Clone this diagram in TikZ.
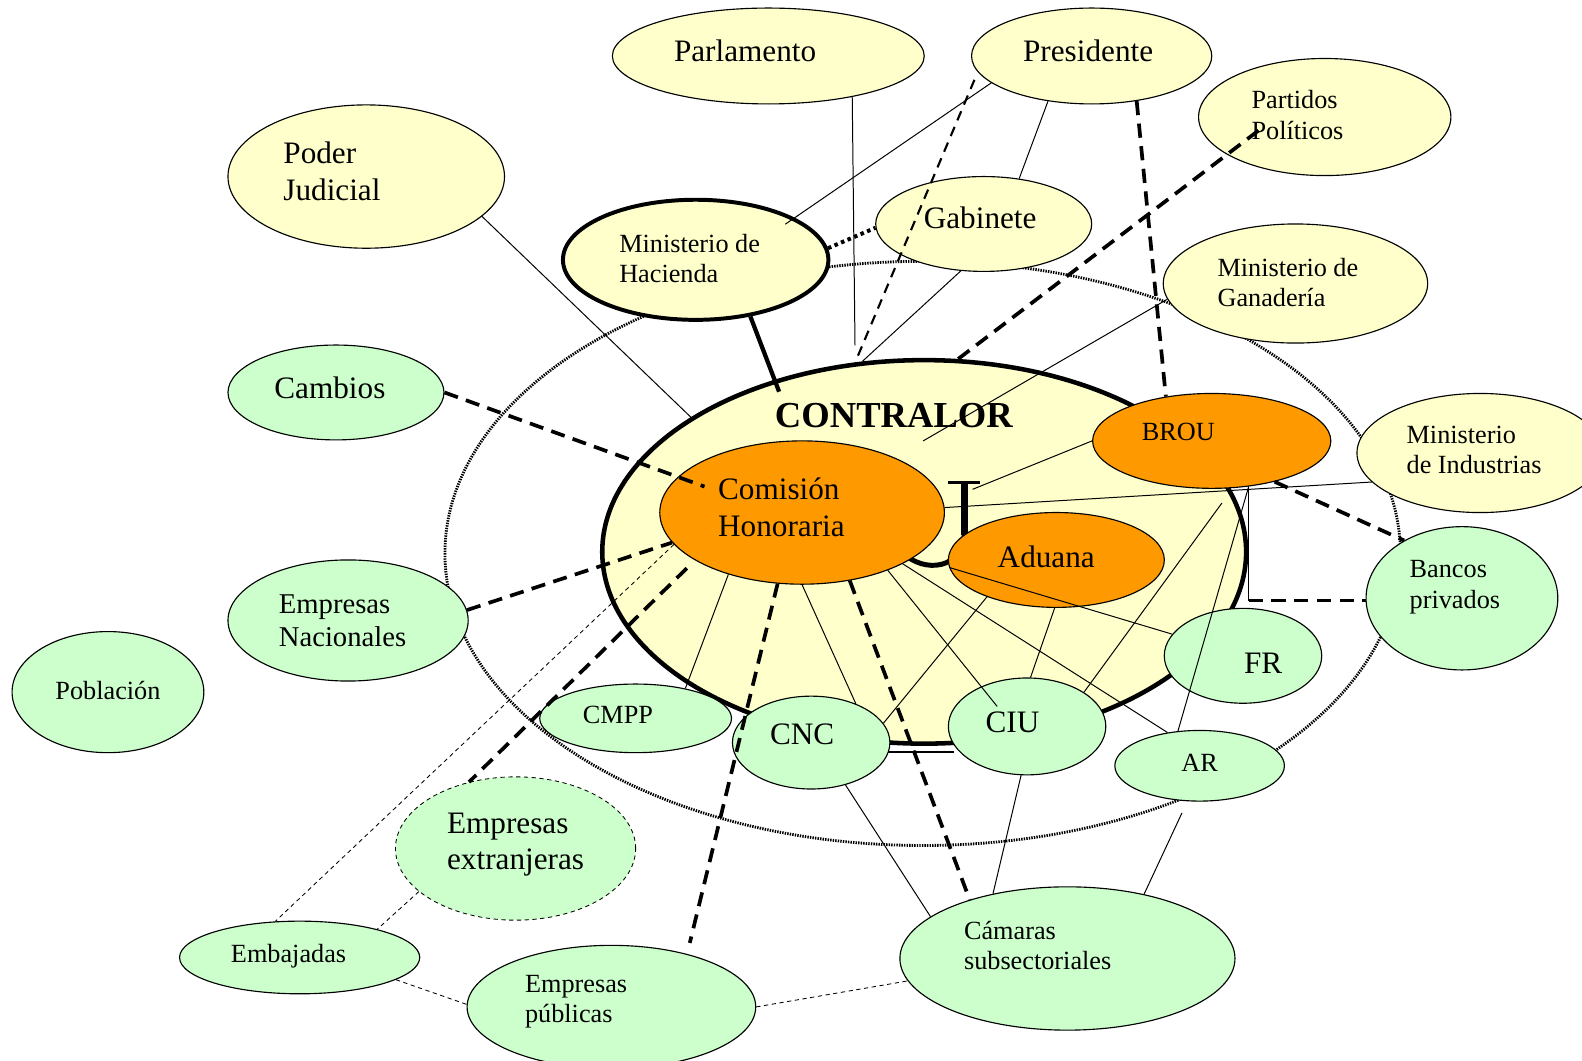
\documentclass[tikz,border=0pt]{standalone}
\usepackage{fontspec}
\setmainfont{Liberation Serif}
\usetikzlibrary{shapes.geometric}
\definecolor{amarillo}{HTML}{FFFFCC}
\definecolor{verde}{HTML}{CCFFCC}
\definecolor{naranja}{HTML}{FF9900}
\tikzset{
  elipse/.style={ellipse,draw,line width=0.8pt,inner sep=0pt},
  tam/.style 2 args={minimum width=#1*0.05cm,minimum height=#2*0.05cm},
  grande/.style={font=\fontsize{22}{25.9}\selectfont,align=left},
  mediano/.style={font=\fontsize{20.2}{23.5}\selectfont,align=left},
  chico/.style={font=\fontsize{18.5}{21.3}\selectfont,align=left},
  fina/.style={line width=0.7pt},
  gruesa/.style={line width=2.6pt,dash pattern=on 10pt off 6pt},
  media/.style={line width=1.5pt,dash pattern=on 7pt off 5pt},
  rayada/.style={line width=0.6pt,dash pattern=on 3pt off 2.5pt},
  punteada/.style={line width=2.8pt,dash pattern=on 2.5pt off 2.5pt},
  entorno/.style={line width=2pt,dash pattern=on 1pt off 0.8pt}
}
\begin{document}
\begin{tikzpicture}[x=0.025cm,y=-0.025cm]
\useasboundingbox (0,0) rectangle (1568,1051);
\draw[entorno] (914.5,548.5) ellipse (473.5 and 289.5);

\node[elipse,tam={154.5}{47.5},fill=amarillo,label={[grande,shift={(-23,-5.5)}]center:Parlamento}] (parlamento) at (761.5,55.5) {};
\node[elipse,tam={119}{47.5},fill=amarillo,label={[grande,shift={(-3.5,-5.5)}]center:Presidente}] (presidente) at (1082,55.5) {};
\node[elipse,tam={125}{58},fill=amarillo,label={[chico,shift={(-27,-2)}]center:Partidos\\Políticos}] (partidos) at (1313,116) {};
\node[elipse,tam={137}{71},fill=amarillo,label={[grande,shift={(-34,-5)}]center:Poder\\Judicial}] (poder) at (363,175) {};
\node[elipse,tam={107}{47},fill=amarillo,label={[grande,shift={(-3.5,-6)}]center:Gabinete}] (gabinete) at (975,222) {};
\node[elipse,tam={131.5}{59.5},fill=amarillo,line width=2.8pt,label={[chico,shift={(-6,-1)}]center:Ministerio de\\Hacienda}] (hacienda) at (689.5,257.5) {};
\node[elipse,tam={131}{59},fill=amarillo,label={[chico,shift={(-7.5,-1)}]center:Ministerio de\\Ganadería}] (ganaderia) at (1284,281) {};
\node[elipse,tam={107}{47},fill=verde,label={[grande,shift={(-6,-5)}]center:Cambios}] (cambios) at (333,389) {};
\node[elipse,tam={122}{59},fill=amarillo,label={[chico,shift={(-6,-3)}]center:Ministerio\\de Industrias}] (industrias) at (1467,449) {};
\node[elipse,tam={95}{71},fill=verde,label={[chico,shift={(-7,-11)}]center:Bancos\\privados}] (bancos) at (1449,593) {};
\node[elipse,tam={119}{60},fill=verde,label={[mediano,shift={(-5.5,0)}]center:Empresas\\Nacionales}] (nacionales) at (345,615) {};
\node[elipse,tam={95}{60},fill=verde,label={[chico,shift={(0,-2)}]center:Población}] (poblacion) at (107,686) {};

\node[elipse,tam={319}{190},fill=amarillo,line width=3.2pt,label={[font=\bfseries\fontsize{25.8}{30}\selectfont,shift={(-30,-135)}]center:CONTRALOR}] (contralor) at (916,547) {};
\draw[line width=1.2pt] (878,745) -- (946,745);
\draw[line width=5.5pt] (956,477) -- (956,530);
\draw[line width=3.5pt] (956,525) .. controls (956,566) and (915,568) .. (895,548);
\draw[line width=2pt] (940,478) -- (971,478);

\node[elipse,tam={141}{71},fill=naranja,label={[grande,shift={(-20.5,-5.5)}]center:Comisión\\Honoraria}] (comision) at (795,508) {};
\node[elipse,tam={118}{47},fill=naranja,label={[chico,shift={(-33,-9)}]center:BROU}] (brou) at (1201,437) {};
\node[elipse,tam={107}{47},fill=naranja,label={[grande,shift={(-10,-3)}]center:Aduana}] (aduana) at (1047,555) {};
\node[elipse,tam={95}{34},fill=verde,label={[chico,shift={(-17.5,-3)}]center:CMPP}] (cmpp) at (630,712) {};
\node[elipse,tam={78}{46},fill=verde,label={[grande,shift={(-9,-8)}]center:CNC}] (cnc) at (804,736) {};
\node[elipse,tam={78}{48},fill=verde,label={[grande,shift={(-14.5,-4)}]center:CIU}] (ciu) at (1018,720) {};
\node[elipse,tam={78}{47},fill=verde,label={[grande,shift={(20,7)}]center:FR}] (fr) at (1232,650) {};
\node[elipse,tam={84}{35},fill=verde,label={[chico,shift={(0,-3)}]center:AR}] (ar) at (1189,759) {};
\node[elipse,rayada,tam={119}{71},fill=verde,label={[grande,shift={(0,-4)}]center:Empresas\\extranjeras}] (extranjeras) at (511,841) {};
\node[elipse,tam={119}{36},fill=verde,label={[chico,shift={(-11,-1)}]center:Embajadas}] (embajadas) at (297,949) {};
\node[elipse,tam={143}{61},fill=verde,label={[chico,shift={(-35,-5)}]center:Empresas\\públicas}] (publicas) at (606,998) {};
\node[elipse,tam={166}{71},fill=verde,label={[chico,shift={(-29.5,-12.5)}]center:Cámaras\\subsectoriales}] (camaras) at (1058,950) {};

\coordinate (fingan) at (915,437);
\coordinate (utop) at (964,485);

\foreach \a/\b in {poder.-19/contralor.150, presidente.-134/gabinete.52,
    gabinete.-116/contralor.108, ganaderia.-173/fingan, brou.west/utop,
    industrias.-165/comision.2, brou.-51/ar.122, comision.-27/ar.134,
    aduana.184/fr.163, aduana.208/cnc.15, aduana.-92/ciu.86,
    comision.220/cmpp.31, comision.-90/cnc.41, cnc.-51/camaras.163,
    ciu.-97/camaras.139}
  \draw[fina] (\a) -- (\b);
\draw[fina,shorten >=-8pt] (presidente.-165) -- (hacienda.23);
\draw[fina,shorten >=12pt] (parlamento.-26) -- (contralor.110);
\draw[fina,shorten <=13pt] (brou.-66) -- (ciu.31);
\draw[fina,shorten >=-18pt] (comision.-34) -- (ciu.139);
\draw[fina,shorten <=9pt] (ar.-109) -- (camaras.40);
\draw[fina] (brou.-51) -- ++(0,113) coordinate (codo);

\draw[gruesa,shorten >=-20pt] (cambios.east) -- (comision.164);
\draw[gruesa] (nacionales.5) -- (comision.193);
\draw[gruesa,shorten <=8pt] (comision.204) -- (extranjeras.125);
\draw[gruesa,shorten >=8pt] (comision.-109) -- (publicas.35);
\draw[gruesa] (comision.-55) -- (camaras.149);
\draw[gruesa,shorten >=-30pt] (contralor.80) -- (partidos.201);
\draw[gruesa] (presidente.-45) -- (brou.136);
\draw[gruesa] (brou.-33) -- (bancos.135);
\draw[gruesa] (codo) -- (codo -| bancos.west);
\draw[media,shorten <=6pt] (presidente.188) -- (contralor.110);
\draw[punteada] (hacienda.5) -- (gabinete.182);
\draw[line width=3pt,shorten >=-9pt] (hacienda.-46) -- (contralor.131);

\draw[rayada] (comision.194) -- (embajadas.124);
\draw[rayada] (extranjeras.204) -- (embajadas.20);
\draw[rayada] (embajadas.-13) -- (publicas.179);
\draw[rayada] (publicas.east) -- (camaras.188);
\end{tikzpicture}
\end{document}
